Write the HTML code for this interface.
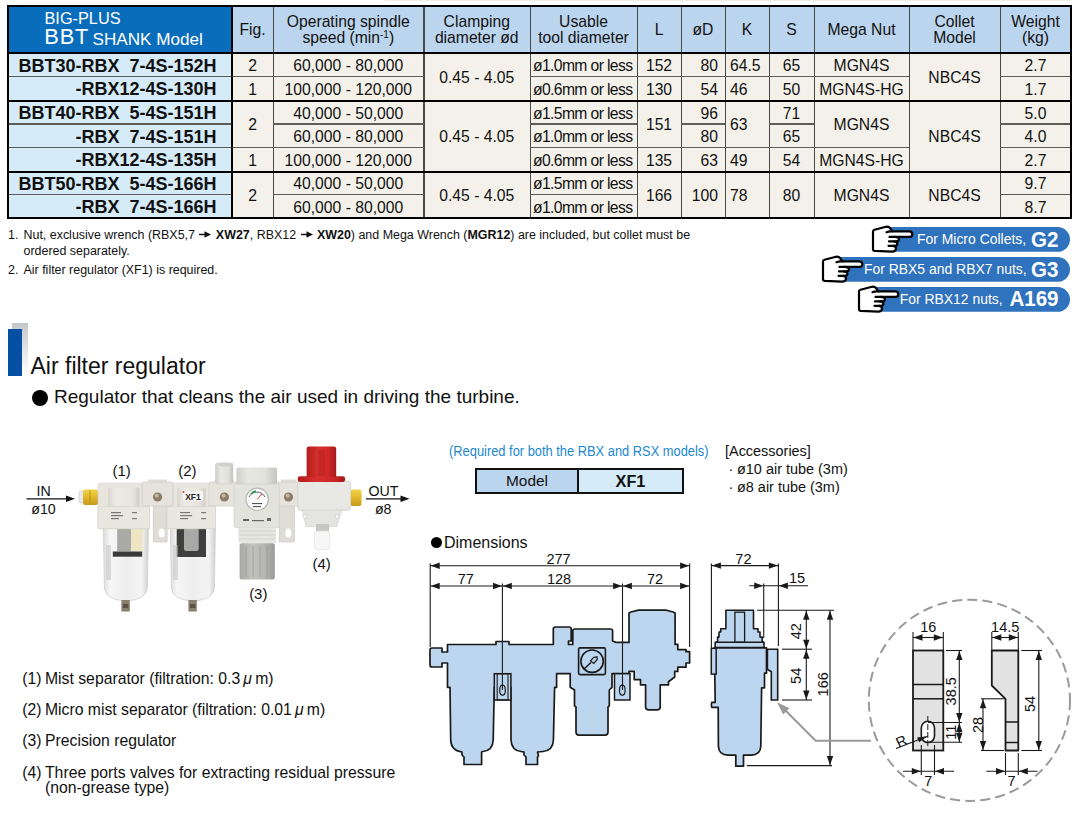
<!DOCTYPE html>
<html><head><meta charset="utf-8"><style>
html,body{margin:0;padding:0;background:#fff}
body{width:1089px;height:820px;position:relative;overflow:hidden;font-family:"Liberation Sans",sans-serif;color:#111}
body>div{position:absolute}
.t{display:flex;align-items:center;white-space:nowrap;line-height:1.15}
.t0{white-space:nowrap}
sup{font-size:10px;vertical-align:0;position:relative;top:-5px;line-height:0}
</style></head><body>
<div style="left:8px;top:6px;width:224px;height:47px;background:#0a6dbc"></div><div style="left:232px;top:6px;width:839px;height:47px;background:#bcd5ee"></div><div style="left:8px;top:53px;width:224px;height:165px;background:#d6ebf8"></div><div style="left:232px;top:53px;width:839px;height:165px;background:#f4f1ea"></div><div class="t0" style="left:44.5px;top:9px;font-size:16.3px;color:#fff;line-height:19px">BIG-PLUS</div><div class="t0" style="left:44.2px;top:23.6px;color:#fff;line-height:26px;font-size:21.8px;letter-spacing:0.9px">BBT</div><div class="t0" style="left:92.6px;top:28.8px;color:#fff;line-height:22px;font-size:17.1px">SHANK Model</div><div class="t" style="left:232px;top:6.5px;width:41px;height:46px;justify-content:center;font-size:15.7px;line-height:16px;text-align:center"><div style="text-align:center">Fig.</div></div><div class="t" style="left:273px;top:6.5px;width:150.5px;height:46px;justify-content:center;font-size:15.7px;line-height:16px;text-align:center"><div style="text-align:center">Operating spindle<br>speed (min<sup>-1</sup>)</div></div><div class="t" style="left:423.5px;top:6.5px;width:106.5px;height:46px;justify-content:center;font-size:15.7px;line-height:16px;text-align:center"><div style="text-align:center">Clamping<br>diameter ød</div></div><div class="t" style="left:530px;top:6.5px;width:107px;height:46px;justify-content:center;font-size:15.7px;line-height:16px;text-align:center"><div style="text-align:center">Usable<br>tool diameter</div></div><div class="t" style="left:637px;top:6.5px;width:44px;height:46px;justify-content:center;font-size:15.7px;line-height:16px;text-align:center"><div style="text-align:center">L</div></div><div class="t" style="left:681px;top:6.5px;width:44px;height:46px;justify-content:center;font-size:15.7px;line-height:16px;text-align:center"><div style="text-align:center">øD</div></div><div class="t" style="left:725px;top:6.5px;width:44px;height:46px;justify-content:center;font-size:15.7px;line-height:16px;text-align:center"><div style="text-align:center">K</div></div><div class="t" style="left:769px;top:6.5px;width:45px;height:46px;justify-content:center;font-size:15.7px;line-height:16px;text-align:center"><div style="text-align:center">S</div></div><div class="t" style="left:814px;top:6.5px;width:95px;height:46px;justify-content:center;font-size:15.7px;line-height:16px;text-align:center"><div style="text-align:center">Mega Nut</div></div><div class="t" style="left:909px;top:6.5px;width:91px;height:46px;justify-content:center;font-size:15.7px;line-height:16px;text-align:center"><div style="text-align:center">Collet<br>Model</div></div><div class="t" style="left:1000px;top:6.5px;width:71px;height:46px;justify-content:center;font-size:15.7px;line-height:16px;text-align:center"><div style="text-align:center">Weight<br>(kg)</div></div><div class="t" style="left:9px;top:54.3px;width:207.5px;height:23.5px;justify-content:flex-end;font-weight:bold;font-size:18px;"><div style="text-align:right">BBT30-RBX&nbsp;&nbsp;7-4S-152H</div></div><div class="t" style="left:9px;top:77.8px;width:207.5px;height:24.0px;justify-content:flex-end;font-weight:bold;font-size:18px;"><div style="text-align:right">-RBX12-4S-130H</div></div><div class="t" style="left:9px;top:101.8px;width:207.5px;height:23.5px;justify-content:flex-end;font-weight:bold;font-size:18px;"><div style="text-align:right">BBT40-RBX&nbsp;&nbsp;5-4S-151H</div></div><div class="t" style="left:9px;top:125.3px;width:207.5px;height:23.5px;justify-content:flex-end;font-weight:bold;font-size:18px;"><div style="text-align:right">-RBX&nbsp;&nbsp;7-4S-151H</div></div><div class="t" style="left:9px;top:148.8px;width:207.5px;height:24.0px;justify-content:flex-end;font-weight:bold;font-size:18px;"><div style="text-align:right">-RBX12-4S-135H</div></div><div class="t" style="left:9px;top:172.8px;width:207.5px;height:23.0px;justify-content:flex-end;font-weight:bold;font-size:18px;"><div style="text-align:right">BBT50-RBX&nbsp;&nbsp;5-4S-166H</div></div><div class="t" style="left:9px;top:195.8px;width:207.5px;height:23.5px;justify-content:flex-end;font-weight:bold;font-size:18px;"><div style="text-align:right">-RBX&nbsp;&nbsp;7-4S-166H</div></div><div class="t" style="left:232px;top:54.3px;width:41px;height:23.5px;justify-content:center;font-size:15.7px;"><div style="text-align:center">2</div></div><div class="t" style="left:232px;top:77.8px;width:41px;height:24.0px;justify-content:center;font-size:15.7px;"><div style="text-align:center">1</div></div><div class="t" style="left:232px;top:101.8px;width:41px;height:47.0px;justify-content:center;font-size:15.7px;"><div style="text-align:center">2</div></div><div class="t" style="left:232px;top:148.8px;width:41px;height:24.0px;justify-content:center;font-size:15.7px;"><div style="text-align:center">1</div></div><div class="t" style="left:232px;top:172.8px;width:41px;height:46.5px;justify-content:center;font-size:15.7px;"><div style="text-align:center">2</div></div><div class="t" style="left:273px;top:54.3px;width:150.5px;height:23.5px;justify-content:center;font-size:15.7px;"><div style="text-align:center">60,000 - 80,000</div></div><div class="t" style="left:273px;top:77.8px;width:150.5px;height:24.0px;justify-content:center;font-size:15.7px;"><div style="text-align:center">100,000 - 120,000</div></div><div class="t" style="left:273px;top:101.8px;width:150.5px;height:23.5px;justify-content:center;font-size:15.7px;"><div style="text-align:center">40,000 - 50,000</div></div><div class="t" style="left:273px;top:125.3px;width:150.5px;height:23.5px;justify-content:center;font-size:15.7px;"><div style="text-align:center">60,000 - 80,000</div></div><div class="t" style="left:273px;top:148.8px;width:150.5px;height:24.0px;justify-content:center;font-size:15.7px;"><div style="text-align:center">100,000 - 120,000</div></div><div class="t" style="left:273px;top:172.8px;width:150.5px;height:23.0px;justify-content:center;font-size:15.7px;"><div style="text-align:center">40,000 - 50,000</div></div><div class="t" style="left:273px;top:195.8px;width:150.5px;height:23.5px;justify-content:center;font-size:15.7px;"><div style="text-align:center">60,000 - 80,000</div></div><div class="t" style="left:423.5px;top:54.3px;width:106.5px;height:47.5px;justify-content:center;font-size:15.7px;"><div style="text-align:center">0.45 - 4.05</div></div><div class="t" style="left:423.5px;top:101.8px;width:106.5px;height:71.0px;justify-content:center;font-size:15.7px;"><div style="text-align:center">0.45 - 4.05</div></div><div class="t" style="left:423.5px;top:172.8px;width:106.5px;height:46.5px;justify-content:center;font-size:15.7px;"><div style="text-align:center">0.45 - 4.05</div></div><div class="t" style="left:530px;top:54.3px;width:107px;height:23.5px;justify-content:flex-start;font-size:15.7px;padding-left:3px;box-sizing:border-box;"><div style="text-align:left"><span style="letter-spacing:-0.62px">ø1.0mm or less</span></div></div><div class="t" style="left:530px;top:77.8px;width:107px;height:24.0px;justify-content:flex-start;font-size:15.7px;padding-left:3px;box-sizing:border-box;"><div style="text-align:left"><span style="letter-spacing:-0.62px">ø0.6mm or less</span></div></div><div class="t" style="left:530px;top:101.8px;width:107px;height:23.5px;justify-content:flex-start;font-size:15.7px;padding-left:3px;box-sizing:border-box;"><div style="text-align:left"><span style="letter-spacing:-0.62px">ø1.5mm or less</span></div></div><div class="t" style="left:530px;top:125.3px;width:107px;height:23.5px;justify-content:flex-start;font-size:15.7px;padding-left:3px;box-sizing:border-box;"><div style="text-align:left"><span style="letter-spacing:-0.62px">ø1.0mm or less</span></div></div><div class="t" style="left:530px;top:148.8px;width:107px;height:24.0px;justify-content:flex-start;font-size:15.7px;padding-left:3px;box-sizing:border-box;"><div style="text-align:left"><span style="letter-spacing:-0.62px">ø0.6mm or less</span></div></div><div class="t" style="left:530px;top:172.8px;width:107px;height:23.0px;justify-content:flex-start;font-size:15.7px;padding-left:3px;box-sizing:border-box;"><div style="text-align:left"><span style="letter-spacing:-0.62px">ø1.5mm or less</span></div></div><div class="t" style="left:530px;top:195.8px;width:107px;height:23.5px;justify-content:flex-start;font-size:15.7px;padding-left:3px;box-sizing:border-box;"><div style="text-align:left"><span style="letter-spacing:-0.62px">ø1.0mm or less</span></div></div><div class="t" style="left:637px;top:54.3px;width:44px;height:23.5px;justify-content:center;font-size:15.7px;"><div style="text-align:center">152</div></div><div class="t" style="left:637px;top:77.8px;width:44px;height:24.0px;justify-content:center;font-size:15.7px;"><div style="text-align:center">130</div></div><div class="t" style="left:637px;top:101.8px;width:44px;height:47.0px;justify-content:center;font-size:15.7px;"><div style="text-align:center">151</div></div><div class="t" style="left:637px;top:148.8px;width:44px;height:24.0px;justify-content:center;font-size:15.7px;"><div style="text-align:center">135</div></div><div class="t" style="left:637px;top:172.8px;width:44px;height:46.5px;justify-content:center;font-size:15.7px;"><div style="text-align:center">166</div></div><div class="t" style="left:681px;top:54.3px;width:44px;height:23.5px;justify-content:flex-end;font-size:15.7px;padding-right:7px;box-sizing:border-box;"><div style="text-align:right">80</div></div><div class="t" style="left:681px;top:77.8px;width:44px;height:24.0px;justify-content:flex-end;font-size:15.7px;padding-right:7px;box-sizing:border-box;"><div style="text-align:right">54</div></div><div class="t" style="left:681px;top:101.8px;width:44px;height:23.5px;justify-content:flex-end;font-size:15.7px;padding-right:7px;box-sizing:border-box;"><div style="text-align:right">96</div></div><div class="t" style="left:681px;top:125.3px;width:44px;height:23.5px;justify-content:flex-end;font-size:15.7px;padding-right:7px;box-sizing:border-box;"><div style="text-align:right">80</div></div><div class="t" style="left:681px;top:148.8px;width:44px;height:24.0px;justify-content:flex-end;font-size:15.7px;padding-right:7px;box-sizing:border-box;"><div style="text-align:right">63</div></div><div class="t" style="left:681px;top:172.8px;width:44px;height:46.5px;justify-content:flex-end;font-size:15.7px;padding-right:7px;box-sizing:border-box;"><div style="text-align:right">100</div></div><div class="t" style="left:725px;top:54.3px;width:44px;height:23.5px;justify-content:flex-start;font-size:15.7px;padding-left:5px;box-sizing:border-box;"><div style="text-align:left">64.5</div></div><div class="t" style="left:725px;top:77.8px;width:44px;height:24.0px;justify-content:flex-start;font-size:15.7px;padding-left:5px;box-sizing:border-box;"><div style="text-align:left">46</div></div><div class="t" style="left:725px;top:101.8px;width:44px;height:47.0px;justify-content:flex-start;font-size:15.7px;padding-left:5px;box-sizing:border-box;"><div style="text-align:left">63</div></div><div class="t" style="left:725px;top:148.8px;width:44px;height:24.0px;justify-content:flex-start;font-size:15.7px;padding-left:5px;box-sizing:border-box;"><div style="text-align:left">49</div></div><div class="t" style="left:725px;top:172.8px;width:44px;height:46.5px;justify-content:flex-start;font-size:15.7px;padding-left:5px;box-sizing:border-box;"><div style="text-align:left">78</div></div><div class="t" style="left:769px;top:54.3px;width:45px;height:23.5px;justify-content:center;font-size:15.7px;"><div style="text-align:center">65</div></div><div class="t" style="left:769px;top:77.8px;width:45px;height:24.0px;justify-content:center;font-size:15.7px;"><div style="text-align:center">50</div></div><div class="t" style="left:769px;top:101.8px;width:45px;height:23.5px;justify-content:center;font-size:15.7px;"><div style="text-align:center">71</div></div><div class="t" style="left:769px;top:125.3px;width:45px;height:23.5px;justify-content:center;font-size:15.7px;"><div style="text-align:center">65</div></div><div class="t" style="left:769px;top:148.8px;width:45px;height:24.0px;justify-content:center;font-size:15.7px;"><div style="text-align:center">54</div></div><div class="t" style="left:769px;top:172.8px;width:45px;height:46.5px;justify-content:center;font-size:15.7px;"><div style="text-align:center">80</div></div><div class="t" style="left:814px;top:54.3px;width:95px;height:23.5px;justify-content:center;font-size:15.7px;"><div style="text-align:center">MGN4S</div></div><div class="t" style="left:814px;top:77.8px;width:95px;height:24.0px;justify-content:center;font-size:15.7px;"><div style="text-align:center">MGN4S-HG</div></div><div class="t" style="left:814px;top:101.8px;width:95px;height:47.0px;justify-content:center;font-size:15.7px;"><div style="text-align:center">MGN4S</div></div><div class="t" style="left:814px;top:148.8px;width:95px;height:24.0px;justify-content:center;font-size:15.7px;"><div style="text-align:center">MGN4S-HG</div></div><div class="t" style="left:814px;top:172.8px;width:95px;height:46.5px;justify-content:center;font-size:15.7px;"><div style="text-align:center">MGN4S</div></div><div class="t" style="left:909px;top:54.3px;width:91px;height:47.5px;justify-content:center;font-size:15.7px;"><div style="text-align:center">NBC4S</div></div><div class="t" style="left:909px;top:101.8px;width:91px;height:71.0px;justify-content:center;font-size:15.7px;"><div style="text-align:center">NBC4S</div></div><div class="t" style="left:909px;top:172.8px;width:91px;height:46.5px;justify-content:center;font-size:15.7px;"><div style="text-align:center">NBC4S</div></div><div class="t" style="left:1000px;top:54.3px;width:71px;height:23.5px;justify-content:center;font-size:15.7px;"><div style="text-align:center">2.7</div></div><div class="t" style="left:1000px;top:77.8px;width:71px;height:24.0px;justify-content:center;font-size:15.7px;"><div style="text-align:center">1.7</div></div><div class="t" style="left:1000px;top:101.8px;width:71px;height:23.5px;justify-content:center;font-size:15.7px;"><div style="text-align:center">5.0</div></div><div class="t" style="left:1000px;top:125.3px;width:71px;height:23.5px;justify-content:center;font-size:15.7px;"><div style="text-align:center">4.0</div></div><div class="t" style="left:1000px;top:148.8px;width:71px;height:24.0px;justify-content:center;font-size:15.7px;"><div style="text-align:center">2.7</div></div><div class="t" style="left:1000px;top:172.8px;width:71px;height:23.0px;justify-content:center;font-size:15.7px;"><div style="text-align:center">9.7</div></div><div class="t" style="left:1000px;top:195.8px;width:71px;height:23.5px;justify-content:center;font-size:15.7px;"><div style="text-align:center">8.7</div></div><div style="left:272.5px;top:6px;width:1.5px;height:212px;background:#4a4a46"></div><div style="left:423.0px;top:6px;width:1.5px;height:212px;background:#4a4a46"></div><div style="left:529.5px;top:6px;width:1.5px;height:212px;background:#4a4a46"></div><div style="left:636.5px;top:6px;width:1.5px;height:212px;background:#4a4a46"></div><div style="left:680.5px;top:6px;width:1.5px;height:212px;background:#4a4a46"></div><div style="left:724.5px;top:6px;width:1.5px;height:212px;background:#4a4a46"></div><div style="left:768.5px;top:6px;width:1.5px;height:212px;background:#4a4a46"></div><div style="left:813.5px;top:6px;width:1.5px;height:212px;background:#4a4a46"></div><div style="left:908.5px;top:6px;width:1.5px;height:212px;background:#4a4a46"></div><div style="left:999.5px;top:6px;width:1.5px;height:212px;background:#4a4a46"></div><div style="left:8px;top:75.7px;width:224px;height:1.6px;background:#5c5c58"></div><div style="left:232px;top:75.7px;width:41px;height:1.6px;background:#5c5c58"></div><div style="left:273px;top:75.7px;width:150.5px;height:1.6px;background:#5c5c58"></div><div style="left:530px;top:75.7px;width:107px;height:1.6px;background:#5c5c58"></div><div style="left:637px;top:75.7px;width:44px;height:1.6px;background:#5c5c58"></div><div style="left:681px;top:75.7px;width:44px;height:1.6px;background:#5c5c58"></div><div style="left:725px;top:75.7px;width:44px;height:1.6px;background:#5c5c58"></div><div style="left:769px;top:75.7px;width:45px;height:1.6px;background:#5c5c58"></div><div style="left:814px;top:75.7px;width:95px;height:1.6px;background:#5c5c58"></div><div style="left:1000px;top:75.7px;width:71px;height:1.6px;background:#5c5c58"></div><div style="left:8px;top:123.2px;width:224px;height:1.6px;background:#5c5c58"></div><div style="left:273px;top:123.2px;width:150.5px;height:1.6px;background:#5c5c58"></div><div style="left:530px;top:123.2px;width:107px;height:1.6px;background:#5c5c58"></div><div style="left:681px;top:123.2px;width:44px;height:1.6px;background:#5c5c58"></div><div style="left:769px;top:123.2px;width:45px;height:1.6px;background:#5c5c58"></div><div style="left:1000px;top:123.2px;width:71px;height:1.6px;background:#5c5c58"></div><div style="left:8px;top:146.7px;width:224px;height:1.6px;background:#5c5c58"></div><div style="left:232px;top:146.7px;width:41px;height:1.6px;background:#5c5c58"></div><div style="left:273px;top:146.7px;width:150.5px;height:1.6px;background:#5c5c58"></div><div style="left:530px;top:146.7px;width:107px;height:1.6px;background:#5c5c58"></div><div style="left:637px;top:146.7px;width:44px;height:1.6px;background:#5c5c58"></div><div style="left:681px;top:146.7px;width:44px;height:1.6px;background:#5c5c58"></div><div style="left:725px;top:146.7px;width:44px;height:1.6px;background:#5c5c58"></div><div style="left:769px;top:146.7px;width:45px;height:1.6px;background:#5c5c58"></div><div style="left:814px;top:146.7px;width:95px;height:1.6px;background:#5c5c58"></div><div style="left:1000px;top:146.7px;width:71px;height:1.6px;background:#5c5c58"></div><div style="left:8px;top:193.7px;width:224px;height:1.6px;background:#5c5c58"></div><div style="left:273px;top:193.7px;width:150.5px;height:1.6px;background:#5c5c58"></div><div style="left:530px;top:193.7px;width:107px;height:1.6px;background:#5c5c58"></div><div style="left:1000px;top:193.7px;width:71px;height:1.6px;background:#5c5c58"></div><div style="left:231px;top:6px;width:2px;height:212px;background:#000"></div><div style="left:7px;top:52px;width:1065px;height:2px;background:#000"></div><div style="left:7px;top:100px;width:1065px;height:2px;background:#000"></div><div style="left:7px;top:171px;width:1065px;height:2px;background:#000"></div><div style="left:7px;top:5px;width:1065px;height:214px;border:2px solid #000;box-sizing:border-box"></div><div style="left:385px;top:0px;width:686px;height:1px;background:#eee"></div><div class="t0" style="left:8px;top:227.6px;font-size:12.45px;line-height:15px;color:#111;white-space:nowrap">1.</div><div class="t0" style="left:23.5px;top:227.6px;font-size:12.45px;line-height:15px;color:#111;white-space:nowrap">Nut, exclusive wrench (RBX5,7 <svg width="12" height="7" style="vertical-align:1px;margin:0 1px" viewBox="0 0 12 7"><path d="M0,3.5 L7,3.5" stroke="#111" stroke-width="1.5"/><path d="M12,3.5 L5.5,0.3 L5.5,6.7 Z" fill="#111"/></svg> <b>XW27</b>, RBX12 <svg width="12" height="7" style="vertical-align:1px;margin:0 1px" viewBox="0 0 12 7"><path d="M0,3.5 L7,3.5" stroke="#111" stroke-width="1.5"/><path d="M12,3.5 L5.5,0.3 L5.5,6.7 Z" fill="#111"/></svg> <b>XW20</b>) and Mega Wrench (<b>MGR12</b>) are included, but collet must be</div><div class="t0" style="left:23.5px;top:243.9px;font-size:12.45px;line-height:15px;color:#111;white-space:nowrap">ordered separately.</div><div class="t0" style="left:8px;top:262.6px;font-size:12.45px;line-height:15px;color:#111;white-space:nowrap">2.</div><div class="t0" style="left:23.5px;top:262.6px;font-size:12.45px;line-height:15px;color:#111;white-space:nowrap">Air filter regulator (XF1) is required.</div><svg style="position:absolute;left:885px;top:227px" width="185" height="25" viewBox="0 0 185 25"><path d="M0.5,0 L172.6,0 A12.4,12.4 0 0 1 172.6,24.8 L5.5,24.8 Z" fill="#2f72bd"/></svg><div style="left:865px;top:222px;width:50px;height:32px"><svg width="50" height="32" viewBox="0 0 50 32" style="position:absolute;left:0;top:0"><path d="M8,27.5 L8,9.5 Q8,8.2 9.5,7.8 L21,4.8 Q24,4.2 26,7.5 L27.5,9.4 L44.3,9.4 Q47.3,9.4 47.3,12.15 Q47.3,14.9 44.3,14.9 L29.5,14.9 Q34,15.2 34,17.3 Q34,19.4 30.5,19.4 L29,19.4 Q32.4,19.8 32.4,21.7 Q32.4,23.8 29.2,23.8 L28,23.8 Q31,24.3 31,26.5 Q31,29.5 27,29.6 L10,28.8 Q8,28.6 8,27.5 Z" fill="#fff" stroke="#000" stroke-width="2.2" stroke-linejoin="round"/><path d="M24.5,14.9 L30,14.9 M24,19.4 L29.5,19.4 M23.5,23.8 L28.5,23.8 M21.5,10.2 Q24,9 27.5,9.4" stroke="#000" stroke-width="2.2" fill="none" stroke-linecap="round"/></svg></div><div class="t0" style="right:62.90000000000009px;top:231.15px;line-height:16px;font-size:13.95px;color:#fff">For Micro Collets,</div><div class="t0" style="right:30.1px;top:225.8px;line-height:26px;font-size:22.8px;font-weight:bold;color:#fff;transform:scaleX(0.9);transform-origin:100% 50%">G2</div><svg style="position:absolute;left:835px;top:257px" width="235" height="25" viewBox="0 0 235 25"><path d="M0.5,0 L222.6,0 A12.4,12.4 0 0 1 222.6,24.8 L5.5,24.8 Z" fill="#2f72bd"/></svg><div style="left:815px;top:252px;width:50px;height:32px"><svg width="50" height="32" viewBox="0 0 50 32" style="position:absolute;left:0;top:0"><path d="M8,27.5 L8,9.5 Q8,8.2 9.5,7.8 L21,4.8 Q24,4.2 26,7.5 L27.5,9.4 L44.3,9.4 Q47.3,9.4 47.3,12.15 Q47.3,14.9 44.3,14.9 L29.5,14.9 Q34,15.2 34,17.3 Q34,19.4 30.5,19.4 L29,19.4 Q32.4,19.8 32.4,21.7 Q32.4,23.8 29.2,23.8 L28,23.8 Q31,24.3 31,26.5 Q31,29.5 27,29.6 L10,28.8 Q8,28.6 8,27.5 Z" fill="#fff" stroke="#000" stroke-width="2.2" stroke-linejoin="round"/><path d="M24.5,14.9 L30,14.9 M24,19.4 L29.5,19.4 M23.5,23.8 L28.5,23.8 M21.5,10.2 Q24,9 27.5,9.4" stroke="#000" stroke-width="2.2" fill="none" stroke-linecap="round"/></svg></div><div class="t0" style="right:62.40000000000009px;top:261.15px;line-height:16px;font-size:13.95px;color:#fff">For RBX5 and RBX7 nuts,</div><div class="t0" style="right:30.1px;top:255.8px;line-height:26px;font-size:22.8px;font-weight:bold;color:#fff;transform:scaleX(0.9);transform-origin:100% 50%">G3</div><svg style="position:absolute;left:871px;top:286.5px" width="199" height="25" viewBox="0 0 199 25"><path d="M0.5,0 L186.6,0 A12.4,12.4 0 0 1 186.6,24.8 L5.5,24.8 Z" fill="#2f72bd"/></svg><div style="left:851px;top:281.5px;width:50px;height:32px"><svg width="50" height="32" viewBox="0 0 50 32" style="position:absolute;left:0;top:0"><path d="M8,27.5 L8,9.5 Q8,8.2 9.5,7.8 L21,4.8 Q24,4.2 26,7.5 L27.5,9.4 L44.3,9.4 Q47.3,9.4 47.3,12.15 Q47.3,14.9 44.3,14.9 L29.5,14.9 Q34,15.2 34,17.3 Q34,19.4 30.5,19.4 L29,19.4 Q32.4,19.8 32.4,21.7 Q32.4,23.8 29.2,23.8 L28,23.8 Q31,24.3 31,26.5 Q31,29.5 27,29.6 L10,28.8 Q8,28.6 8,27.5 Z" fill="#fff" stroke="#000" stroke-width="2.2" stroke-linejoin="round"/><path d="M24.5,14.9 L30,14.9 M24,19.4 L29.5,19.4 M23.5,23.8 L28.5,23.8 M21.5,10.2 Q24,9 27.5,9.4" stroke="#000" stroke-width="2.2" fill="none" stroke-linecap="round"/></svg></div><div class="t0" style="right:86.29999999999995px;top:290.65px;line-height:16px;font-size:13.95px;color:#fff">For RBX12 nuts,</div><div class="t0" style="right:30.1px;top:285.3px;line-height:26px;font-size:22.8px;font-weight:bold;color:#fff;transform:scaleX(0.9);transform-origin:100% 50%">A169</div><div style="left:12px;top:323px;width:16px;height:51px;background:linear-gradient(#c4c6c8,#fff)"></div><div style="left:7.5px;top:329.3px;width:14.5px;height:47px;background:#0650a4"></div><div class="t0" style="left:30.5px;top:352.5px;font-size:23px;line-height:26px;color:#111">Air filter regulator</div><div style="left:31.5px;top:389.5px;width:16px;height:16px;border-radius:50%;background:#000"></div><div class="t0" style="left:54px;top:386px;font-size:19px;line-height:22px;color:#111">Regulator that cleans the air used in driving the turbine.</div><div class="t0" style="left:22.3px;top:669.9px;font-size:15.75px;line-height:17px;color:#111">(1)</div><div class="t0" style="left:45px;top:669.9px;font-size:15.75px;line-height:17px;color:#111">Mist separator (filtration: 0.3&thinsp;<i>μ</i>&thinsp;m)</div><div class="t0" style="left:22.3px;top:701.1px;font-size:15.75px;line-height:17px;color:#111">(2)</div><div class="t0" style="left:45px;top:701.1px;font-size:15.75px;line-height:17px;color:#111">Micro mist separator (filtration: 0.01&thinsp;<i>μ</i>&thinsp;m)</div><div class="t0" style="left:22.3px;top:732.4px;font-size:15.75px;line-height:17px;color:#111">(3)</div><div class="t0" style="left:45px;top:732.4px;font-size:15.75px;line-height:17px;color:#111">Precision regulator</div><div class="t0" style="left:22.3px;top:763.6px;font-size:15.75px;line-height:17px;color:#111">(4)</div><div class="t0" style="left:45px;top:763.6px;font-size:15.75px;line-height:17px;color:#111">Three ports valves for extracting residual pressure</div><div class="t0" style="left:45px;top:778.5px;font-size:15.75px;line-height:17px;color:#111">(non-grease type)</div><div class="t0" style="left:448.5px;top:442px;font-size:15.5px;line-height:18px;color:#1d88cf;transform:scaleX(0.83);transform-origin:0 0">(Required for both the RBX and RSX models)</div><div style="left:475px;top:468px;width:104px;height:26px;background:#bcd5ee;border:2px solid #111;box-sizing:border-box"></div><div style="left:577px;top:468px;width:107px;height:26px;background:#d6ebf8;border:2px solid #111;box-sizing:border-box"></div><div class="t0" style="left:477px;top:472px;width:100px;text-align:center;font-size:15.4px;line-height:18px">Model</div><div class="t0" style="left:579px;top:472px;width:103px;text-align:center;font-size:16.3px;line-height:18px;font-weight:bold">XF1</div><div class="t0" style="left:725px;top:443px;font-size:14.45px;line-height:17px;color:#111">[Accessories]</div><div class="t0" style="left:728.5px;top:461px;font-size:14.45px;line-height:17px;color:#111">·</div><div class="t0" style="left:737px;top:461px;font-size:14.45px;line-height:17px;color:#111">ø10 air tube (3m)</div><div class="t0" style="left:728.5px;top:478.5px;font-size:14.45px;line-height:17px;color:#111">·</div><div class="t0" style="left:737px;top:478.5px;font-size:14.45px;line-height:17px;color:#111">ø8 air tube (3m)</div><div style="left:430.5px;top:536.5px;width:11px;height:11px;border-radius:50%;background:#000"></div><div class="t0" style="left:444px;top:533.5px;font-size:16px;line-height:18px;color:#111">Dimensions</div>
<svg width="1089" height="820" viewBox="0 0 1089 820" style="position:absolute;left:0;top:0" font-family="Liberation Sans, sans-serif">
<path d="M447.5,644.5 L496,644.5 L496,641.5 L509,641.5 L509,644.5 L553.3,644.5 L553.3,629 Q553.3,627 555.5,627 L569,627 Q571.2,627 571.2,629 L571.2,641 L568.5,641 L568.5,644.5 L572.8,644.5 L572.8,631 Q572.8,629 575,629 L610.5,629 Q612.6,629 612.6,631 L612.6,641 L616,642.4 L629,642.4 L629,613 L631,612 L638.4,610.2 L666.4,610.2 L673,612 L675.1,613 L675.1,644.4 L677.8,644.4 L677.8,649.6 L686,649.6 L686,651.7 L689.6,651.7 L689.6,663 L686,663 L686,667.2 L677.8,667.2 L677.8,671.4 L674.7,671.4 L674.7,677 L668.5,681.7 L668.5,684.9 L660.2,684.9 L660.2,707 Q660.2,709.8 657,709.8 L648.8,709.8 Q645.6,709.8 645.6,707 L645.6,684.9 L640.5,684.9 L640.5,679.7 L634.2,679.7 L634.2,671.4 L629,671.4 L629,673.7 L612,673.7 L612,687.3 L609.3,690 L609.3,705.9 L608,707 L608,732 Q608,735.1 605,735.1 L579,735.1 Q576,735.1 576,732 L576,707 L574.5,705.9 L574.5,690 L570.2,687.3 L570.2,673.7 L556.6,673.7 L556.6,687.3 L554.6,687.3 L553.4,740 Q553,750.5 543,751.5 L537.5,752 L538.5,756 L537.5,757 L537.5,764.5 L526,764.5 L526,757 L524,755 L524,752 L521,751.5 Q511.5,750.5 511,740 L510.9,687.3 L494.3,687.3 L493.2,740 Q492.8,750.5 483,751.5 L481.6,752 L481.6,764.5 L464,764.5 L464,757 L462,755 L462,752 Q451,750.5 450.7,740 L450,687.3 L447.5,687.3 L447.5,663 L442,663 L442,667 L432,667 Q430,667 430,665 L430,650 Q430,648 432,648 L442,648 L442,652 L447.5,652 Z" fill="#bdd6ef" stroke="#1a1a1a" stroke-width="1.7" stroke-linejoin="round"/>
<rect x="494.3" y="673.7" width="16.599999999999966" height="26.3" fill="#bdd6ef" stroke="#1a1a1a" stroke-width="1.5"/>
<rect x="614.5" y="673.7" width="15.5" height="26.3" fill="#bdd6ef" stroke="#1a1a1a" stroke-width="1.5"/>
<rect x="497.2" y="673.7" width="10.8" height="26.3" fill="none" stroke="#1a1a1a" stroke-width="1.1"/>
<ellipse cx="502.5" cy="690.2" rx="2.8" ry="5" fill="none" stroke="#1a1a1a" stroke-width="1.2"/>
<ellipse cx="622.3" cy="690.2" rx="2.8" ry="5" fill="none" stroke="#1a1a1a" stroke-width="1.2"/>
<rect x="578.6" y="647.9" width="26.8" height="26.7" rx="1.5" fill="#bdd6ef" stroke="#1a1a1a" stroke-width="1.6"/>
<circle cx="592.1" cy="661.2" r="11.2" fill="none" stroke="#1a1a1a" stroke-width="1.6"/>
<path d="M583.5,669.5 L591,662.5" stroke="#1a1a1a" stroke-width="1.6"/>
<path d="M590.5,661 L593.5,657.5 L597,656.8 L597.2,659.5 L593.8,663.5 Z" fill="#bdd6ef" stroke="#1a1a1a" stroke-width="1.2"/>
<line x1="430.2" y1="563.5" x2="430.2" y2="647" stroke="#1a1a1a" stroke-width="1.1" />
<line x1="502.4" y1="583.5" x2="502.4" y2="690" stroke="#1a1a1a" stroke-width="1.1" />
<line x1="622.5" y1="583.5" x2="622.5" y2="690" stroke="#1a1a1a" stroke-width="1.1" />
<line x1="689.6" y1="563.5" x2="689.6" y2="647" stroke="#1a1a1a" stroke-width="1.1" />
<line x1="430.2" y1="565.7" x2="689.6" y2="565.7" stroke="#1a1a1a" stroke-width="1.1" />
<path d="M430.7,565.7 L439.7,562.5 L439.7,568.9 Z" fill="#1a1a1a"/>
<path d="M689.1,565.7 L680.1,568.9 L680.1,562.5 Z" fill="#1a1a1a"/>
<line x1="430.2" y1="586" x2="689.6" y2="586" stroke="#1a1a1a" stroke-width="1.1" />
<path d="M430.7,586.0 L439.7,582.8 L439.7,589.2 Z" fill="#1a1a1a"/>
<path d="M502.0,586.0 L493.0,589.2 L493.0,582.8 Z" fill="#1a1a1a"/>
<path d="M502.8,586.0 L511.8,582.8 L511.8,589.2 Z" fill="#1a1a1a"/>
<path d="M622.1,586.0 L613.1,589.2 L613.1,582.8 Z" fill="#1a1a1a"/>
<path d="M622.9,586.0 L631.9,582.8 L631.9,589.2 Z" fill="#1a1a1a"/>
<path d="M689.1,586.0 L680.1,589.2 L680.1,582.8 Z" fill="#1a1a1a"/>
<text x="558.5" y="563.8" font-size="14.5" text-anchor="middle" fill="#111">277</text>
<text x="465.8" y="584.0" font-size="14.5" text-anchor="middle" fill="#111">77</text>
<text x="559" y="584.0" font-size="14.5" text-anchor="middle" fill="#111">128</text>
<text x="655" y="584.0" font-size="14.5" text-anchor="middle" fill="#111">72</text>
<path d="M725.9,610.2 L753.5,610.2 L753.5,628.8 L758,628.8 L758,632 L760,632 L760,637.1 L762.2,637.1 L762.2,642.3 L764,642.3 L764,647.5 L715.2,647.5 L715.2,642.3 L717.6,642.3 L717.6,637.1 L719,637.1 L719,632 L720.7,632 L720.7,628.8 L725.9,628.8 Z" fill="#bdd6ef" stroke="#1a1a1a" stroke-width="1.6" stroke-linejoin="round"/>
<line x1="715.2" y1="642.3" x2="764" y2="642.3" stroke="#1a1a1a" stroke-width="1.5" />
<rect x="734.9" y="612.2" width="9.7" height="30.1" fill="none" stroke="#1a1a1a" stroke-width="1.3"/>
<path d="M714.3,647.8 L766.5,647.8 L766.5,673.2 L764.5,673.2 L764.5,687.8 L761.6,687.8 L760.8,746 Q760.6,755 751,755.1 L743.5,755.1 L743.5,766.2 L735.8,766.2 L735.8,755.1 L728,755.1 Q718.6,755 718.4,746 L718.2,707.3 L711.8,707.3 Q711,705 711.8,702.4 L715.2,702.4 L714.8,674 Z" fill="#bdd6ef" stroke="#1a1a1a" stroke-width="1.7" stroke-linejoin="round"/>
<rect x="711.3" y="648.3" width="4.9" height="25.8" fill="#bdd6ef" stroke="#1a1a1a" stroke-width="1.5"/>
<path d="M767.4,649.3 L777.7,649.3 L777.7,700 L771.3,700 L771.3,671.7 L767.4,669.3 Z" fill="#bdd6ef" stroke="#1a1a1a" stroke-width="1.6"/>
<line x1="711.4" y1="563.5" x2="711.4" y2="648" stroke="#1a1a1a" stroke-width="1.1" />
<line x1="778.4" y1="563.5" x2="778.4" y2="646" stroke="#1a1a1a" stroke-width="1.1" />
<line x1="711.4" y1="565.6" x2="778.4" y2="565.6" stroke="#1a1a1a" stroke-width="1.1" />
<path d="M711.9,565.6 L720.9,562.4 L720.9,568.8 Z" fill="#1a1a1a"/>
<path d="M777.9,565.6 L768.9,568.8 L768.9,562.4 Z" fill="#1a1a1a"/>
<text x="743.4" y="563.6" font-size="14.5" text-anchor="middle" fill="#111">72</text>
<line x1="763.7" y1="583.5" x2="763.7" y2="638" stroke="#1a1a1a" stroke-width="1.1" />
<line x1="749.4" y1="585.7" x2="808" y2="585.7" stroke="#1a1a1a" stroke-width="1.1" />
<path d="M763.2,585.7 L754.2,588.9 L754.2,582.5 Z" fill="#1a1a1a"/>
<path d="M778.9,585.7 L787.9,582.5 L787.9,588.9 Z" fill="#1a1a1a"/>
<text x="789" y="583.2" font-size="14.5" text-anchor="start" fill="#111">15</text>
<line x1="757" y1="610.2" x2="834" y2="610.2" stroke="#1a1a1a" stroke-width="1.1" />
<line x1="782" y1="649.2" x2="812" y2="649.2" stroke="#1a1a1a" stroke-width="1.1" />
<line x1="782" y1="700" x2="812" y2="700" stroke="#1a1a1a" stroke-width="1.1" />
<line x1="746.8" y1="765.6" x2="832" y2="765.6" stroke="#1a1a1a" stroke-width="1.1" />
<line x1="806.3" y1="610.2" x2="806.3" y2="700" stroke="#1a1a1a" stroke-width="1.1" />
<path d="M806.3,610.7 L809.5,619.7 L803.1,619.7 Z" fill="#1a1a1a"/>
<path d="M806.3,648.7 L803.1,639.7 L809.5,639.7 Z" fill="#1a1a1a"/>
<path d="M806.3,649.7 L809.5,658.7 L803.1,658.7 Z" fill="#1a1a1a"/>
<path d="M806.3,699.5 L803.1,690.5 L809.5,690.5 Z" fill="#1a1a1a"/>
<line x1="830" y1="610.2" x2="830" y2="765.6" stroke="#1a1a1a" stroke-width="1.1" />
<path d="M830.0,610.7 L833.2,619.7 L826.8,619.7 Z" fill="#1a1a1a"/>
<path d="M830.0,765.1 L826.8,756.1 L833.2,756.1 Z" fill="#1a1a1a"/>
<text x="801.5" y="631.2" font-size="14.5" text-anchor="middle" fill="#111" transform="rotate(-90 801.5 631.2)">42</text>
<text x="801.5" y="675.8" font-size="14.5" text-anchor="middle" fill="#111" transform="rotate(-90 801.5 675.8)">54</text>
<text x="828.3" y="684.3" font-size="14.5" text-anchor="middle" fill="#111" transform="rotate(-90 828.3 684.3)">166</text>
<polyline points="783,708 815.7,740.8 871,740.8" fill="none" stroke="#9a9a9a" stroke-width="2"/>
<path d="M777.1,702.2 L789.5,708.2 L783.1,714.6 Z" fill="#9a9a9a"/>
<circle cx="969.4" cy="700.3" r="100.6" fill="#fff" stroke="#9a9a9a" stroke-width="2" stroke-dasharray="10 5.2"/>
<rect x="913" y="650.5" width="30.3" height="100" fill="#e2e2e2" stroke="#1a1a1a" stroke-width="1.8"/>
<line x1="913" y1="684.5" x2="943.3" y2="684.5" stroke="#1a1a1a" stroke-width="1.5" />
<line x1="913" y1="698.8" x2="943.3" y2="698.8" stroke="#1a1a1a" stroke-width="1.5" />
<rect x="921.3" y="721.3" width="13.2" height="21.2" rx="6.6" fill="#fff" stroke="#1a1a1a" stroke-width="1.6"/>
<line x1="927.8" y1="716" x2="927.8" y2="746" stroke="#1a1a1a" stroke-width="1.0" stroke-dasharray="6 2"/>
<line x1="913" y1="632" x2="913" y2="650" stroke="#1a1a1a" stroke-width="1.1" />
<line x1="943.3" y1="632" x2="943.3" y2="650" stroke="#1a1a1a" stroke-width="1.1" />
<line x1="913" y1="637.5" x2="943.3" y2="637.5" stroke="#1a1a1a" stroke-width="1.1" />
<path d="M913.5,637.5 L922.5,634.3 L922.5,640.7 Z" fill="#1a1a1a"/>
<path d="M942.8,637.5 L933.8,640.7 L933.8,634.3 Z" fill="#1a1a1a"/>
<text x="928.2" y="632.3" font-size="14.5" text-anchor="middle" fill="#111">16</text>
<line x1="946" y1="650.5" x2="962" y2="650.5" stroke="#1a1a1a" stroke-width="1.1" />
<line x1="928" y1="722.5" x2="962" y2="722.5" stroke="#1a1a1a" stroke-width="1.1" />
<line x1="929" y1="742.2" x2="962" y2="742.2" stroke="#1a1a1a" stroke-width="1.1" />
<line x1="959.3" y1="650.5" x2="959.3" y2="742.2" stroke="#1a1a1a" stroke-width="1.1" />
<path d="M959.3,651.0 L962.5,660.0 L956.1,660.0 Z" fill="#1a1a1a"/>
<path d="M959.3,722.0 L956.1,713.0 L962.5,713.0 Z" fill="#1a1a1a"/>
<path d="M959.3,723.0 L962.5,732.0 L956.1,732.0 Z" fill="#1a1a1a"/>
<path d="M959.3,741.7 L956.1,732.7 L962.5,732.7 Z" fill="#1a1a1a"/>
<text x="955.8" y="691.3" font-size="14.5" text-anchor="middle" fill="#111" transform="rotate(-90 955.8 691.3)">38.5</text>
<text x="955.8" y="732.3" font-size="14.5" text-anchor="middle" fill="#111" transform="rotate(-90 955.8 732.3)">11</text>
<line x1="921.3" y1="745" x2="921.3" y2="775" stroke="#1a1a1a" stroke-width="1.1" />
<line x1="934.5" y1="745" x2="934.5" y2="775" stroke="#1a1a1a" stroke-width="1.1" />
<line x1="903" y1="771.3" x2="954" y2="771.3" stroke="#1a1a1a" stroke-width="1.1" />
<path d="M920.8,771.3 L911.8,774.5 L911.8,768.1 Z" fill="#1a1a1a"/>
<path d="M935.0,771.3 L944.0,768.1 L944.0,774.5 Z" fill="#1a1a1a"/>
<text x="928.3" y="785.5" font-size="14.5" text-anchor="middle" fill="#111">7</text>
<line x1="896" y1="748.5" x2="927.5" y2="736.3" stroke="#1a1a1a" stroke-width="1.2" />
<path d="M927.5,736.3 L919.1,742.3 L917.2,737.5 Z" fill="#1a1a1a"/>
<text x="903.5" y="745.8" font-size="14.5" text-anchor="middle" fill="#111" transform="rotate(-25 903.5 745.8)">R</text>
<path d="M991.8,650.5 L1018.3,650.5 L1018.3,750.5 L1005.5,750.5 L1005.5,698.8 L991.8,685.5 Z" fill="#e2e2e2" stroke="#1a1a1a" stroke-width="1.8" stroke-linejoin="round"/>
<line x1="1005.5" y1="722" x2="1018.3" y2="722" stroke="#1a1a1a" stroke-width="1.5" />
<line x1="1005.5" y1="742.5" x2="1018.3" y2="742.5" stroke="#1a1a1a" stroke-width="1.5" />
<line x1="991.8" y1="632" x2="991.8" y2="650" stroke="#1a1a1a" stroke-width="1.1" />
<line x1="1018.3" y1="632" x2="1018.3" y2="650" stroke="#1a1a1a" stroke-width="1.1" />
<line x1="991.8" y1="637.5" x2="1018.3" y2="637.5" stroke="#1a1a1a" stroke-width="1.1" />
<path d="M992.3,637.5 L1001.3,634.3 L1001.3,640.7 Z" fill="#1a1a1a"/>
<path d="M1017.8,637.5 L1008.8,640.7 L1008.8,634.3 Z" fill="#1a1a1a"/>
<text x="1005.2" y="632.3" font-size="14.5" text-anchor="middle" fill="#111">14.5</text>
<line x1="1021.3" y1="650.5" x2="1042" y2="650.5" stroke="#1a1a1a" stroke-width="1.1" />
<line x1="1021.3" y1="750.5" x2="1042" y2="750.5" stroke="#1a1a1a" stroke-width="1.1" />
<line x1="1038.8" y1="650.5" x2="1038.8" y2="750.5" stroke="#1a1a1a" stroke-width="1.1" />
<path d="M1038.8,651.0 L1042.0,660.0 L1035.6,660.0 Z" fill="#1a1a1a"/>
<path d="M1038.8,750.0 L1035.6,741.0 L1042.0,741.0 Z" fill="#1a1a1a"/>
<text x="1035.3" y="704" font-size="14.5" text-anchor="middle" fill="#111" transform="rotate(-90 1035.3 704)">54</text>
<line x1="981" y1="698.8" x2="1004" y2="698.8" stroke="#1a1a1a" stroke-width="1.1" />
<line x1="981" y1="750.5" x2="1004" y2="750.5" stroke="#1a1a1a" stroke-width="1.1" />
<line x1="983" y1="698.8" x2="983" y2="750.5" stroke="#1a1a1a" stroke-width="1.1" />
<path d="M983.0,699.3 L986.2,708.3 L979.8,708.3 Z" fill="#1a1a1a"/>
<path d="M983.0,750.0 L979.8,741.0 L986.2,741.0 Z" fill="#1a1a1a"/>
<text x="982.5" y="725" font-size="14.5" text-anchor="middle" fill="#111" transform="rotate(-90 982.5 725)">28</text>
<line x1="1005.5" y1="753" x2="1005.5" y2="775" stroke="#1a1a1a" stroke-width="1.1" />
<line x1="1018.3" y1="753" x2="1018.3" y2="775" stroke="#1a1a1a" stroke-width="1.1" />
<line x1="986.3" y1="771.3" x2="1037.5" y2="771.3" stroke="#1a1a1a" stroke-width="1.1" />
<path d="M1005.0,771.3 L996.0,774.5 L996.0,768.1 Z" fill="#1a1a1a"/>
<path d="M1018.8,771.3 L1027.8,768.1 L1027.8,774.5 Z" fill="#1a1a1a"/>
<text x="1011.5" y="785.5" font-size="14.5" text-anchor="middle" fill="#111">7</text>
</svg><svg width="1089" height="820" viewBox="0 0 1089 820" style="position:absolute;left:0;top:0" font-family="Liberation Sans, sans-serif">
<defs>
<linearGradient id="gHead" x1="0" x2="1" y1="0" y2="0"><stop offset="0" stop-color="#d8d6ce"/><stop offset="0.25" stop-color="#ecebe5"/><stop offset="0.8" stop-color="#e6e4dc"/><stop offset="1" stop-color="#cfcdc5"/></linearGradient>
<linearGradient id="gBowl" x1="0" x2="1" y1="0" y2="0"><stop offset="0" stop-color="#dcdcdc"/><stop offset="0.15" stop-color="#f6f6f6"/><stop offset="0.5" stop-color="#eeeeee"/><stop offset="0.85" stop-color="#f4f4f4"/><stop offset="1" stop-color="#d0d0d0"/></linearGradient>
<linearGradient id="gCyl" x1="0" x2="1" y1="0" y2="0"><stop offset="0" stop-color="#cfcfca"/><stop offset="0.3" stop-color="#e8e8e3"/><stop offset="0.7" stop-color="#e2e2dc"/><stop offset="1" stop-color="#c4c4be"/></linearGradient>
<linearGradient id="gBon" x1="0" x2="1" y1="0" y2="0"><stop offset="0" stop-color="#a6a6a2"/><stop offset="0.35" stop-color="#c2c2be"/><stop offset="0.7" stop-color="#b6b6b2"/><stop offset="1" stop-color="#9a9a96"/></linearGradient>
<linearGradient id="gRed" x1="0" x2="1" y1="0" y2="0"><stop offset="0" stop-color="#b41c1c"/><stop offset="0.4" stop-color="#d93030"/><stop offset="0.75" stop-color="#cc2626"/><stop offset="1" stop-color="#a81818"/></linearGradient>
<linearGradient id="gBrass" x1="0" x2="0" y1="0" y2="1"><stop offset="0" stop-color="#f2d44a"/><stop offset="0.5" stop-color="#e2b82a"/><stop offset="1" stop-color="#c89a1c"/></linearGradient>
</defs>
<text x="43.7" y="495.5" font-size="14.2" text-anchor="middle" fill="#111">IN</text>
<text x="43.5" y="513.5" font-size="14.2" text-anchor="middle" fill="#111">ø10</text>
<line x1="26.6" y1="498.8" x2="68" y2="498.8" stroke="#111" stroke-width="1.3"/><path d="M75,498.8 L66,495.6 L66,502 Z" fill="#111"/>
<text x="383.5" y="495.5" font-size="14.2" text-anchor="middle" fill="#111">OUT</text>
<text x="383.2" y="513.5" font-size="14.2" text-anchor="middle" fill="#111">ø8</text>
<line x1="366" y1="498.8" x2="402" y2="498.8" stroke="#111" stroke-width="1.3"/><path d="M409.5,498.8 L400.5,495.6 L400.5,502 Z" fill="#111"/>
<text x="121.7" y="475.8" font-size="15" text-anchor="middle" fill="#111">(1)</text>
<text x="187.4" y="475.8" font-size="15" text-anchor="middle" fill="#111">(2)</text>
<text x="258.3" y="598.6" font-size="15" text-anchor="middle" fill="#111">(3)</text>
<text x="321.6" y="569.3" font-size="15" text-anchor="middle" fill="#111">(4)</text>
<rect x="79" y="491" width="5" height="12" rx="1.5" fill="#e8e8e8" stroke="#c8c8c8" stroke-width="0.6"/>
<rect x="83" y="489.4" width="15" height="15.5" rx="2" fill="url(#gBrass)"/>
<line x1="90" y1="490" x2="90" y2="504" stroke="#b08a10" stroke-width="0.8"/>
<rect x="350.5" y="489.4" width="11" height="16.5" rx="2" fill="url(#gBrass)"/>
<path d="M103.4,528 L148.4,528 L147.4,588 Q146.4,600 125.9,601 Q105.4,600 104.4,588 Z" fill="url(#gBowl)" stroke="#cfcfcf" stroke-width="0.8"/>
<rect x="121.4" y="600" width="8.4" height="11.5" fill="#8a7f6e"/>
<rect x="122.9" y="604" width="5.5" height="4" fill="#5a5248"/>
<path d="M170.4,528 L215.4,528 L214.4,588 Q213.4,600 192.9,601 Q172.4,600 171.4,588 Z" fill="url(#gBowl)" stroke="#cfcfcf" stroke-width="0.8"/>
<rect x="188.4" y="600" width="8.4" height="11.5" fill="#8a7f6e"/>
<rect x="189.9" y="604" width="5.5" height="4" fill="#5a5248"/>
<rect x="117.2" y="527.3" width="14" height="24" fill="#a9a9a6"/>
<rect x="131.1" y="527.3" width="11.5" height="24" fill="#ede5c4"/>
<rect x="112.8" y="551.5" width="29.4" height="5.2" fill="#3a3a3a"/>
<rect x="106" y="545" width="5" height="35" fill="#c0c0c0" opacity="0.5"/>
<rect x="176.7" y="528" width="29.3" height="29" fill="#3f3f3f"/>
<rect x="184" y="528" width="14.7" height="23" rx="2" fill="#a8a8a6"/>
<rect x="173" y="545" width="5" height="35" fill="#c0c0c0" opacity="0.5"/>
<rect x="153.2" y="505" width="13.900000000000006" height="37" fill="#dedcd4" stroke="#c8c6be" stroke-width="0.6"/>
<ellipse cx="161.64999999999998" cy="533" rx="3" ry="4.5" fill="#fff"/>
<rect x="279.2" y="505" width="15.300000000000011" height="37" fill="#dedcd4" stroke="#c8c6be" stroke-width="0.6"/>
<ellipse cx="288.35" cy="533" rx="3" ry="4.5" fill="#fff"/>
<rect x="98" y="483.2" width="51.5" height="45.6" rx="2" fill="#e7e5de" stroke="#d2d0c8" stroke-width="0.6"/>
<rect x="108" y="488" width="31.5" height="19" fill="url(#gHead)"/>
<rect x="98" y="506.7" width="51.5" height="22" fill="#e9e7e0" stroke="#d6d4cc" stroke-width="0.6"/>
<g fill="#777"><rect x="111" y="512" width="10" height="1.2"/><rect x="111" y="515" width="12" height="1.2"/><rect x="111" y="518" width="8" height="1.2"/><rect x="132" y="512" width="5" height="1.2"/><rect x="132" y="518" width="5" height="1.2"/></g>
<rect x="167.1" y="483.2" width="48.5" height="45.6" rx="2" fill="#e7e5de" stroke="#d2d0c8" stroke-width="0.6"/>
<rect x="177.1" y="488" width="28.5" height="19" fill="url(#gHead)"/>
<rect x="167.1" y="506.7" width="48.5" height="22" fill="#e9e7e0" stroke="#d6d4cc" stroke-width="0.6"/>
<g fill="#777"><rect x="180.1" y="512" width="10" height="1.2"/><rect x="180.1" y="515" width="12" height="1.2"/><rect x="180.1" y="518" width="8" height="1.2"/><rect x="201.1" y="512" width="5" height="1.2"/><rect x="201.1" y="518" width="5" height="1.2"/></g>
<rect x="183" y="491" width="20" height="10" fill="#f4f4f4"/>
<text x="193" y="500" font-size="8.5" font-weight="bold" text-anchor="middle" fill="#222">XF1</text>
<circle cx="183.5" cy="492" r="1" fill="#e33"/>
<rect x="142.2" y="482" width="30.80000000000001" height="24" rx="1.5" fill="#e5e3dc" stroke="#cfcdc5" stroke-width="0.7"/>
<rect x="148.2" y="479.5" width="18.80000000000001" height="4" fill="#dddbd3"/>
<circle cx="157.6" cy="497" r="4.6" fill="#8c7c66"/><circle cx="156.79999999999998" cy="495.8" r="2" fill="#c9b9a0"/>
<rect x="209" y="482" width="30.900000000000006" height="24" rx="1.5" fill="#e5e3dc" stroke="#cfcdc5" stroke-width="0.7"/>
<rect x="215" y="479.5" width="18.900000000000006" height="4" fill="#dddbd3"/>
<circle cx="224.4" cy="497" r="4.6" fill="#8c7c66"/><circle cx="223.6" cy="495.8" r="2" fill="#c9b9a0"/>
<rect x="274.8" y="482" width="27.399999999999977" height="24" rx="1.5" fill="#e5e3dc" stroke="#cfcdc5" stroke-width="0.7"/>
<rect x="280.8" y="479.5" width="15.399999999999977" height="4" fill="#dddbd3"/>
<circle cx="288.5" cy="497" r="4.6" fill="#8c7c66"/><circle cx="287.7" cy="495.8" r="2" fill="#c9b9a0"/>
<rect x="215.5" y="463" width="17.5" height="21" rx="2" fill="url(#gCyl)" stroke="#cfcfc8" stroke-width="0.6"/>
<ellipse cx="224.2" cy="464.5" rx="6" ry="2" fill="#d0d0cc"/>
<rect x="236.3" y="467.4" width="40.7" height="20" rx="2" fill="url(#gCyl)"/>
<rect x="234.1" y="484" width="45.1" height="43.8" rx="2" fill="#e3e3dd" stroke="#cfcfc8" stroke-width="0.7"/>
<circle cx="257.2" cy="499.3" r="11.2" fill="#fafafa" stroke="#b8b8b2" stroke-width="1.2"/>
<path d="M249,497 A9,9 0 0 1 265,497" fill="none" stroke="#555" stroke-width="0.9"/>
<path d="M251,494 A8,8 0 0 1 256,491" fill="none" stroke="#2a9a4a" stroke-width="1.4"/>
<line x1="257.2" y1="499.3" x2="262" y2="494" stroke="#c22" stroke-width="0.9"/>
<g fill="#555"><rect x="252" y="503" width="10" height="1.1"/><rect x="253" y="506" width="8" height="1.1"/></g>
<g fill="#666"><rect x="243" y="519" width="6" height="2"/><rect x="252" y="520" width="12" height="1.2"/><rect x="267" y="518" width="4" height="3"/></g>
<rect x="238.5" y="527.8" width="37.4" height="15.4" fill="#e6e6e1"/>
<g stroke="#cfcfca" stroke-width="0.8"><line x1="238.5" y1="531" x2="275.9" y2="531"/><line x1="238.5" y1="535" x2="275.9" y2="535"/><line x1="238.5" y1="539" x2="275.9" y2="539"/></g>
<rect x="239.6" y="543.2" width="35.2" height="36.2" rx="2" fill="url(#gBon)"/>
<g stroke="#9c9c98" stroke-width="0.8"><line x1="246" y1="546" x2="246" y2="577"/><line x1="253" y1="546" x2="253" y2="577"/><line x1="260" y1="546" x2="260" y2="577"/><line x1="267" y1="546" x2="267" y2="577"/></g>
<rect x="297.8" y="481" width="52.7" height="29.3" rx="2" fill="#e8e8e4" stroke="#d0d0cc" stroke-width="0.7"/>
<path d="M302.2,510 L341.7,510 L337,526.7 L306,526.7 Z" fill="#e4e4e0" stroke="#d0d0cc" stroke-width="0.6"/>
<circle cx="305" cy="516.5" r="2" fill="#fff" stroke="#bbb" stroke-width="0.6"/><circle cx="337" cy="516.5" r="2" fill="#fff" stroke="#bbb" stroke-width="0.6"/>
<rect x="316" y="524" width="13" height="8" fill="#c6c6c2"/>
<rect x="314.3" y="531" width="15.3" height="18.8" rx="3" fill="#f7f7f7" stroke="#ddd" stroke-width="0.6"/>
<rect x="297.8" y="476.2" width="47.2" height="5.8" rx="2" fill="url(#gRed)"/>
<path d="M306.6,449 Q306.6,446.6 309,446.6 L334,446.6 Q336.2,446.6 336.2,449 L336.2,477 L306.6,477 Z" fill="url(#gRed)"/>
<rect x="318" y="450" width="7" height="26" fill="#b82020" opacity="0.55"/>
</svg>
</body></html>
